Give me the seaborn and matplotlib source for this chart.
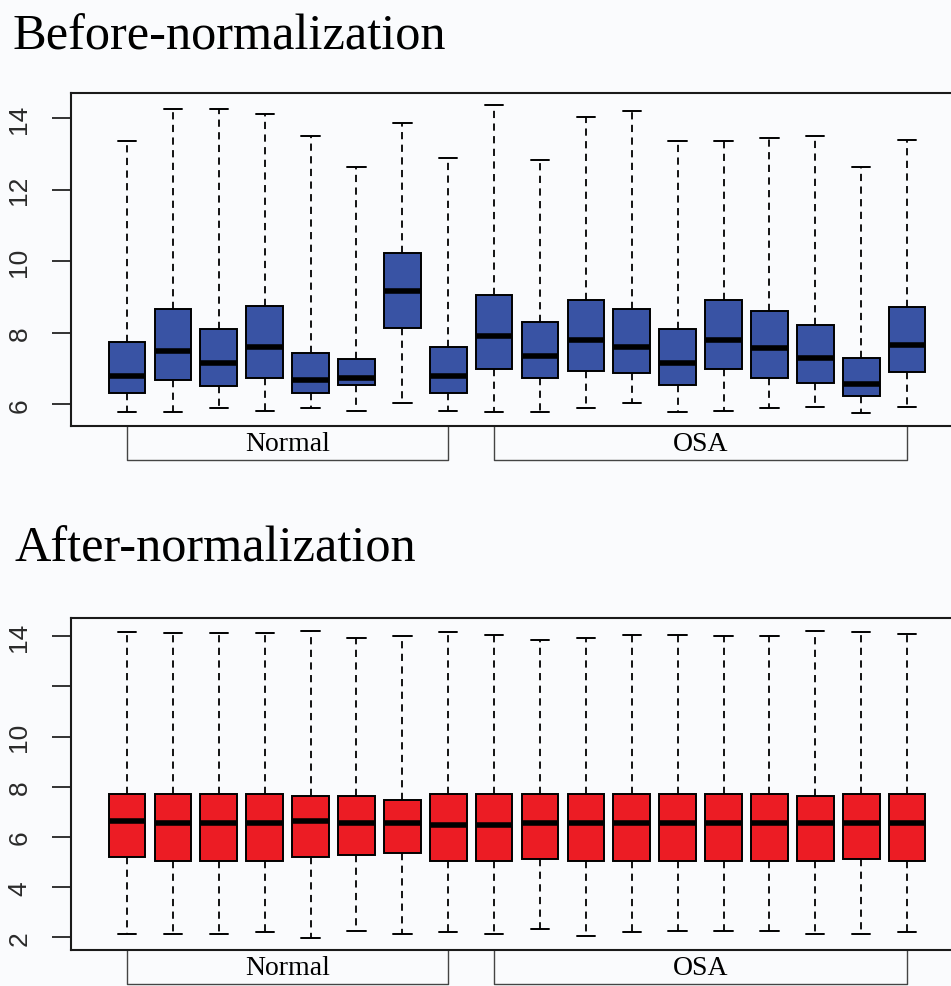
# Boxplots of expression values before and after normalization
import numpy as np
import pandas as pd
import matplotlib
matplotlib.use("Agg")
import matplotlib.pyplot as plt
import matplotlib.transforms as mtrans
import seaborn as sns

# 18 arrays: 8 Normal + 10 OSA
samples = [f"S{i+1}" for i in range(18)]
groups = ["Normal", "OSA"]
group_sizes = [8, 10]

# before normalization (whisker low, Q1, median, Q3, whisker high)
before_low  = [5.79, 5.79, 5.89, 5.83, 5.89, 5.83, 6.04, 5.83,
               5.79, 5.79, 5.89, 6.04, 5.79, 5.83, 5.89, 5.93, 5.76, 5.93]
before_q1   = [6.33, 6.68, 6.51, 6.74, 6.33, 6.55, 8.15, 6.33,
               7.00, 6.74, 6.94, 6.89, 6.54, 7.00, 6.74, 6.59, 6.23, 6.90]
before_med  = [6.80, 7.50, 7.16, 7.61, 6.69, 6.75, 9.17, 6.80,
               7.91, 7.35, 7.80, 7.61, 7.15, 7.80, 7.58, 7.31, 6.56, 7.65]
before_q3   = [7.75, 8.66, 8.12, 8.76, 7.45, 7.26, 10.23, 7.60,
               9.06, 8.30, 8.92, 8.66, 8.12, 8.92, 8.61, 8.21, 7.31, 8.71]
before_high = [13.36, 14.25, 14.25, 14.12, 13.49, 12.63, 13.86, 12.88,
               14.35, 12.84, 14.04, 14.20, 13.36, 13.36, 13.44, 13.49, 12.63, 13.39]

# after normalization
after_low  = [2.13, 2.13, 2.13, 2.20, 1.97, 2.27, 2.13, 2.20,
              2.13, 2.35, 2.07, 2.20, 2.27, 2.27, 2.27, 2.13, 2.13, 2.20]
after_q1   = [5.22, 5.06, 5.06, 5.06, 5.22, 5.29, 5.35, 5.06,
              5.06, 5.13, 5.06, 5.06, 5.06, 5.06, 5.06, 5.06, 5.13, 5.06]
after_med  = [6.64, 6.57, 6.57, 6.57, 6.64, 6.57, 6.57, 6.48,
              6.48, 6.57, 6.57, 6.57, 6.57, 6.57, 6.57, 6.57, 6.57, 6.57]
after_q3   = [7.72, 7.72, 7.72, 7.72, 7.64, 7.64, 7.48, 7.72,
              7.72, 7.72, 7.72, 7.72, 7.72, 7.72, 7.72, 7.64, 7.72, 7.72]
after_high = [14.15, 14.11, 14.11, 14.11, 14.20, 13.93, 14.00, 14.15,
              14.04, 13.84, 13.93, 14.04, 14.04, 14.00, 14.00, 14.20, 14.15, 14.08]

bg = "#fafbfd"


def to_long(low, q1, med, q3, high):
    # five points per sample -> quartiles land exactly on q1/med/q3
    rows = []
    for s, a, b, c, d, e in zip(samples, low, q1, med, q3, high):
        for v in (a, b, c, d, e):
            rows.append({"sample": s, "value": v})
    return pd.DataFrame(rows)


def draw_panel(ax, df, color, ylim, yticks, yticklabels):
    sns.boxplot(data=df, x="sample", y="value", ax=ax, order=samples,
                color=color, saturation=1, width=0.8, whis=(0, 100),
                linecolor="black", linewidth=1.4, showfliers=False,
                medianprops={"linewidth": 4.0, "color": "black"},
                whiskerprops={"linestyle": (0, (4, 3)), "linewidth": 1.3},
                capprops={"linewidth": 1.4})
    ax.set_facecolor(bg)
    ax.set_xlim(-1.22, 18.22)
    ax.set_ylim(*ylim)
    ax.set_xlabel("")
    ax.set_ylabel("")
    ax.set_xticks([])
    ax.set_yticks(yticks)
    ax.set_yticklabels(yticklabels, rotation=90, va="center",
                       fontsize=19, color="#2a2a2a", family="Liberation Sans")
    ax.tick_params(axis="y", length=13.5, width=1.3, pad=15, color="#222222")
    for sp in ax.spines.values():
        sp.set_linewidth(1.5)
        sp.set_color("#1a1a1a")

    # group brackets under the axis
    trans = mtrans.blended_transform_factory(ax.transData, ax.transAxes)
    start = 0
    for g, n in zip(groups, group_sizes):
        x0, x1 = start, start + n - 1
        ax.plot([x0, x0, x1, x1], [0, -0.102, -0.102, 0], transform=trans,
                color="#444444", lw=1.0, clip_on=False)
        ax.text((x0 + x1) / 2, -0.052, g, transform=trans, ha="center",
                va="center", fontsize=20, color="black",
                family="Liberation Serif")
        start += n


sns.set_style("ticks")
plt.rcParams["font.family"] = ["Liberation Serif", "DejaVu Serif"]

fig = plt.figure(figsize=(9.51, 9.87), dpi=100)
fig.patch.set_facecolor(bg)

ax1 = fig.add_axes([0.0747, 0.5674, 0.938, 0.3374])
draw_panel(ax1, to_long(before_low, before_q1, before_med, before_q3, before_high),
           "#3953a4", (5.40, 14.70), [6, 8, 10, 12, 14],
           ["6", "8", "10", "12", "14"])

ax2 = fig.add_axes([0.0747, 0.0365, 0.938, 0.3360])
draw_panel(ax2, to_long(after_low, after_q1, after_med, after_q3, after_high),
           "#ec1c24", (1.50, 14.71), [2, 4, 6, 8, 10, 12, 14],
           ["2", "4", "6", "8", "10", "", "14"])

fig.text(0.013, 1 - 49 / 987, "Before-normalization", fontsize=36.3,
         ha="left", va="baseline", color="black")
fig.text(0.015, 1 - 562 / 987, "After-normalization", fontsize=36.3,
         ha="left", va="baseline", color="black")

fig.savefig("out.png", dpi=100, facecolor=bg)
